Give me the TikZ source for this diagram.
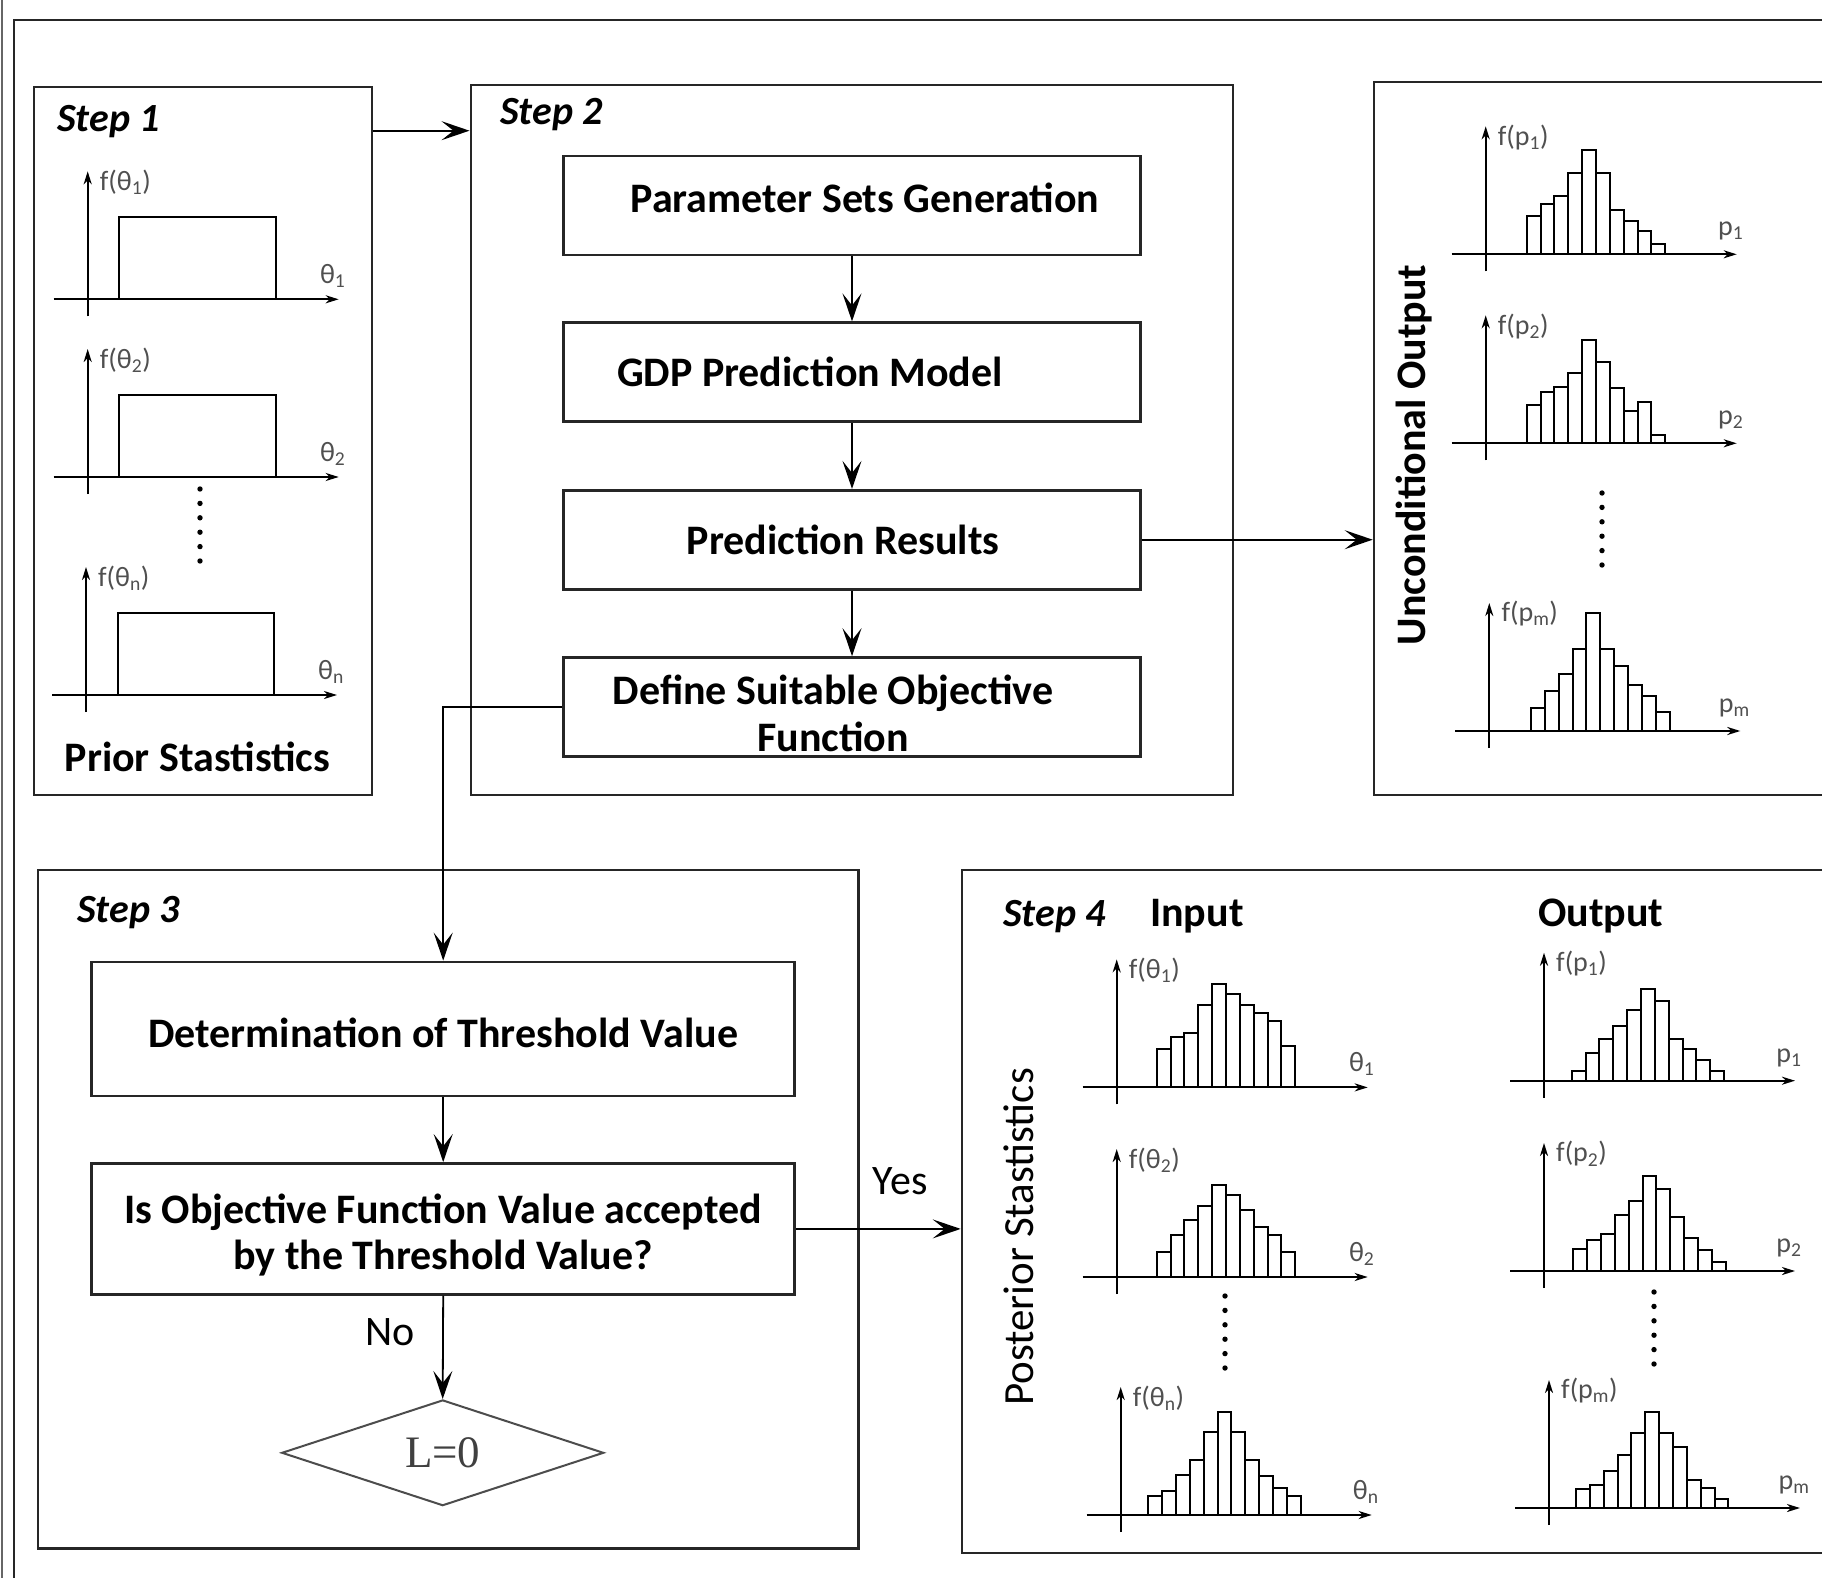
\documentclass[tikz,border=0pt]{standalone}
\usepackage{fontspec}
\setmainfont{Carlito}
\newfontfamily\serifL{Liberation Serif}
\usetikzlibrary{calc,arrows.meta,shapes.geometric}

\definecolor{labelgray}{HTML}{505050}

\tikzset{
  frame/.style={draw=black!85,line width=2.6pt,rectangle,inner sep=0pt},
  procbox/.style={draw=black!85,line width=2.6pt,rectangle,inner sep=0pt,align=center,
    font=\fontsize{42}{46.5}\selectfont\bfseries},
  arr/.style={-{Stealth[length=28pt,width=19pt,inset=12pt]},line width=1.8pt},
  axis/.style={-{Stealth[length=13pt,width=8pt,inset=4pt]},line width=2pt},
  bar/.style={line width=2pt,fill=white},
  steplabel/.style={anchor=base west,inner sep=0pt,font=\fontsize{40}{44}\selectfont\bfseries\itshape},
  head/.style={inner sep=0pt,font=\fontsize{42}{46}\selectfont\bfseries},
  plain/.style={inner sep=0pt,font=\fontsize{42}{46}\selectfont},
  axlabel/.style={inner sep=0pt,text=labelgray,font=\fontsize{28}{30}\selectfont}
}

% axes of one small chart: origin x, origin y, f-label, axis label
\newcommand{\chartaxes}[4]{%
  \draw[axis] (#1,#2+17) -- (#1,#2-128);
  \draw[axis] (#1-34,#2) -- (#1+251,#2);
  \node[axlabel,anchor=west] at (#1+12,#2-117) {#3};
  \node[axlabel] at (#1+245,#2-23) {#4};
}
% histogram bars from a start point
\newcommand{\bars}[3]{%
  \foreach \h [count=\i from 0] in {#3}
    \draw[bar] (#1+\i*13.85,#2) rectangle ++(13.85,-\h);
}
% uniform prior
\newcommand{\unichart}[4]{%
  \chartaxes{#1}{#2}{#3}{#4}
  \draw[bar] (#1+31.6,#2) rectangle ++(156.4,-82);
}
\newcommand{\vdotsat}[2]{%
  \foreach \k in {0,...,5} \fill (#1,#2+\k*14.4) circle (2.7pt);
}

\begin{document}
\begin{tikzpicture}[x=1pt,y=-1pt]
\useasboundingbox (0,0) rectangle (1822,1578);
\fill[white] (0,0) rectangle (1822,1578);
\clip (0,0) rectangle (1822,1578);

\draw[line width=2pt,black!60] (1.5,0) -- (1.5,1578);
\draw[line width=2.2pt,black!85] (14,1578) -- (14,20) -- (1822,20);

% step frames
\node[frame,minimum width=338pt,minimum height=708pt] (step1) at (203,441) {};
\node[frame,minimum width=762pt,minimum height=710pt] (step2) at (851.8,440) {};
\node[frame,minimum width=470pt,minimum height=713pt] (uncond) at (1609,438.5) {};
\node[frame,minimum width=820.5pt,minimum height=678.5pt] (step3) at (448.25,1209.25) {};
\node[frame,minimum width=880pt,minimum height=683pt] (step4) at (1402,1211.5) {};

\node[steplabel] (s1lab) at (57,132) {Step 1};
\node[steplabel] (s2lab) at (500,125) {Step 2};
\node[steplabel] (s3lab) at (77,922) {Step 3};
\node[steplabel] (s4lab) at (1003,926) {Step 4};
\node[head,anchor=base west] (inlab) at (1150,926) {Input};
\node[head,anchor=base west] (outlab) at (1538,926) {Output};

% step 1
\unichart{87.7}{299.3}{f(θ\textsubscript{1})}{θ\textsubscript{1}}
\unichart{87.7}{477}{f(θ\textsubscript{2})}{θ\textsubscript{2}}
\unichart{86}{695}{f(θ\textsubscript{n})}{θ\textsubscript{n}}
\vdotsat{200}{489}
\node[head] (prior) at (197.5,756.5) {Prior Stastistics};

% step 2
\node[procbox,minimum width=577pt,minimum height=99pt] (psg) at (852,205.5) {\rule[-15pt]{0pt}{0pt}\hspace*{26pt}Parameter Sets Generation};
\node[procbox,minimum width=577pt,minimum height=99pt] (gdp) at (852,372.2) {GDP Prediction Model\hspace*{84pt}};
\node[procbox,minimum width=577pt,minimum height=99pt] (pres) at (852,539.7) {Prediction Results\hspace*{18pt}};
\node[procbox,minimum width=577pt,minimum height=99pt] (obj) at (852,707) {\rule{0pt}{42pt}Define Suitable Objective\hspace*{38pt}\\Function\hspace*{38pt}};
\draw[arr] (psg.south) -- (gdp.north);
\draw[arr] (gdp.south) -- (pres.north);
\draw[arr] (pres.south) -- (obj.north);

\coordinate (s12) at ([yshift=-45pt]step1.north east);
\draw[arr] (s12) -- (s12 -| step2.west);
\draw[arr] (pres.east) -- (pres.east -| uncond.west);

% unconditional output
\node[head,rotate=90] (uclab) at (1414,455) {Unconditional Output};
\chartaxes{1485.7}{254.3}{f(p\textsubscript{1})}{p\textsubscript{1}}
\bars{1526.7}{254.3}{38,50,58,81,104,81,44,33,23,10}
\chartaxes{1485.7}{443.3}{f(p\textsubscript{2})}{p\textsubscript{2}}
\bars{1526.7}{443.3}{38,51,56,70,103,81,55,32,41,8}
\vdotsat{1602}{493}
\chartaxes{1489.3}{731}{f(p\textsubscript{m})}{p\textsubscript{m}}
\bars{1531}{731}{23,40,57,82,118,82,65,46,35,19}

% step 3
\node[procbox,minimum width=703pt,minimum height=134pt] (thr) at (443.2,1028.9) {\rule{0pt}{37pt}Determination of Threshold Value};
\node[procbox,minimum width=703pt,minimum height=131pt] (accept) at (443.2,1228.9) {\rule{0pt}{42pt}Is Objective Function Value accepted\\by the Threshold Value?};
\node[diamond,draw=black!70,line width=2pt,inner sep=0pt,minimum width=322pt,minimum height=104pt,
  text=black!75,font=\serifL\fontsize{45}{45}\selectfont] (lzero) at (442.7,1452.8) {L=0};
\draw[arr] (obj.west) -| (thr.north);
\draw[arr] (thr.south) -- (accept.north);
\draw[arr] (accept.south) -- (lzero.north);
\node[plain] (no) at (390,1332.5) {No};
\draw[arr] (accept.east) -- (accept.east -| step4.west);
\node[plain] (yes) at (900,1181.5) {Yes};

% step 4
\node[plain,rotate=90] (post) at (1019,1237) {\fontsize{43}{46}\selectfont Posterior Stastistics};
\chartaxes{1116.7}{1087.4}{f(θ\textsubscript{1})}{θ\textsubscript{1}}
\bars{1156.7}{1087.4}{38,50,54,82,103,93,82,74,66,41}
\chartaxes{1116.7}{1277}{f(θ\textsubscript{2})}{θ\textsubscript{2}}
\bars{1156.7}{1277}{25,42,57,71,92,82,67,50,42,25}
\vdotsat{1225}{1296}
\chartaxes{1120.7}{1515}{f(θ\textsubscript{n})}{θ\textsubscript{n}}
\bars{1148.3}{1515}{19,24,40,55,83,103,83,55,39,27,19}

\chartaxes{1544}{1080.7}{f(p\textsubscript{1})}{p\textsubscript{1}}
\bars{1571.7}{1080.7}{10,28,42,55,71,92,80,42,32,21,10}
\chartaxes{1544}{1271}{f(p\textsubscript{2})}{p\textsubscript{2}}
\bars{1573.3}{1271}{22,31,37,56,70,95,82,54,33,21,9}
\vdotsat{1654}{1292}
\chartaxes{1549}{1508}{f(p\textsubscript{m})}{p\textsubscript{m}}
\bars{1576}{1508}{19,23,37.5,53,75,96,75,61,28,20,9}
\end{tikzpicture}
\end{document}
